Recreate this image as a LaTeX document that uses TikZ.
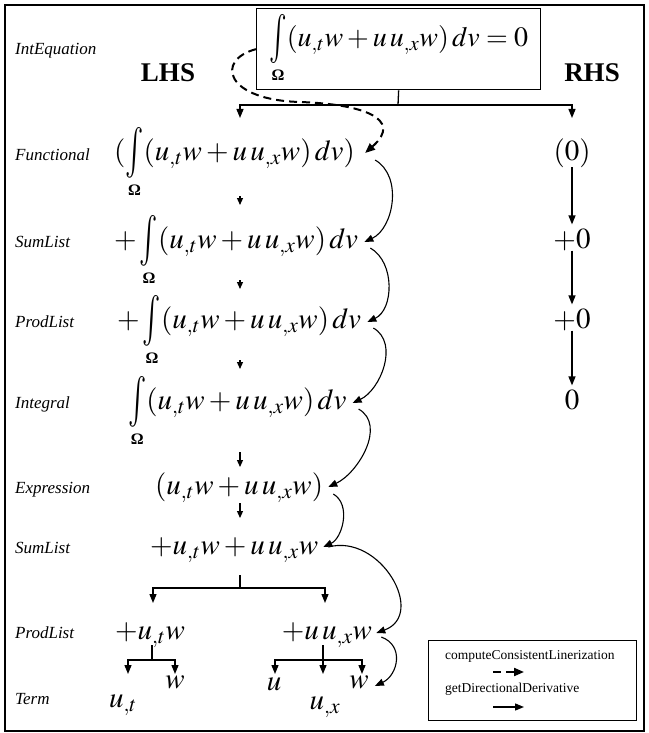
\documentclass[tikz,border=0pt]{standalone}
\usepackage{mathptmx}
\usepackage{graphicx}
\usepackage{fontspec}
\setmainfont{Liberation Serif}
\usetikzlibrary{arrows.meta}
\newcommand\om{\mbox{\fontsize{16}{16}\selectfont\bfseries Ω}}
\newcommand\bigint{\vcenter{\hbox{\scalebox{1.05}[1.75]{$\textstyle\int$}}}}
\newcommand\ig{\mathop{\bigint}\limits_{\om}}
\newcommand\fx{(u_{,t}w+u\,u_{,x}w)}
\newcommand\dvv{\,dv}
\begin{document}
\begin{tikzpicture}[x=1pt,y=-1pt,
  lbl/.style={anchor=base west,inner sep=0pt,font=\fontsize{17}{19}\selectfont\itshape},
  fm/.style={anchor=base west,inner sep=0pt,font=\fontsize{29}{33}\selectfont},
  tm/.style={anchor=base,inner sep=0pt,font=\fontsize{29}{33}\selectfont},
  hd/.style={inner sep=0pt,font=\fontsize{27}{30}\selectfont\bfseries},
  lg/.style={anchor=west,inner sep=0pt,font=\fontsize{13.5}{15}\selectfont},
  conn/.style={line width=1.3pt},
  arr/.style={line width=1.3pt,-{Triangle[length=9pt,width=7pt]}},
  smarr/.style={line width=1.2pt,-{Triangle[length=7pt,width=6pt]}},
  sarr/.style={line width=1.1pt,-{Triangle[length=9pt,width=7pt]}},
  darr/.style={line width=2pt,dash pattern=on 8pt off 5pt,-{Triangle[length=10pt,width=8pt]}},
]
\useasboundingbox (0,0) rectangle (648,733);
\draw[line width=1.5pt] (5,5) rectangle (644,731);

% top equation
\node[draw,line width=1.3pt,anchor=north west,inner sep=0pt,minimum width=284pt,minimum height=81pt,font=\fontsize{28}{32}\selectfont] (eq) at (256,8) {$\ig\fx\dvv=0$};
\node[lbl] (lab0) at (15,55) {IntEquation};
\node[hd] (lhs) at (168,73) {LHS};
\node[hd] (rhs) at (592,73) {RHS};

% labels
\node[lbl] (lab1) at (15,160) {Functional};
\node[lbl] (lab2) at (15,247) {SumList};
\node[lbl] (lab3) at (15,327) {ProdList};
\node[lbl] (lab4) at (15,408) {Integral};
\node[lbl] (lab5) at (15,493) {Expression};
\node[lbl] (lab6) at (15,553) {SumList};
\node[lbl] (lab7) at (15,638) {ProdList};
\node[lbl] (lab8) at (15,704) {Term};

% LHS formulas
\node[fm] (f1) at (114,160) {$(\ig\fx\dvv)$};
\node[fm] (s1) at (114,248) {$+\ig\fx\dvv$};
\node[fm] (p1) at (117,328) {$+\ig\fx\dvv$};
\node[fm] (i1) at (128,409) {$\ig\fx\dvv$};
\node[fm] (e1) at (155,494) {$\fx$};
\node[fm] (s2) at (150,554) {$+u_{,t}w+u\,u_{,x}w$};
\node[tm] (p2a) at (150,639) {$+u_{,t}w$};
\node[tm] (p2b) at (327,639) {$+u\,u_{,x}w$};
\node[tm] (t1) at (123,707) {$u_{,t}$};
\node[tm] (t2) at (175,688) {$w$};
\node[tm] (t3) at (274,690) {$u$};
\node[tm] (t4) at (325,709) {$u_{,x}$};
\node[tm] (t5) at (359,688) {$w$};

% RHS
\node[tm] (r1) at (572,160) {$(0)$};
\node[tm] (r2) at (572,248) {$+0$};
\node[tm] (r3) at (572,328) {$+0$};
\node[tm] (r4) at (572,409) {$0$};
\draw[arr,shorten >=4pt] (r1.south) -- (r2.north);
\draw[arr,shorten >=4pt] (r2.south) -- (r3.north);
\draw[arr,shorten >=4pt] (r3.south) -- (r4.north);

% top tree
\coordinate (jt) at (398,105);
\coordinate (tl) at (240,118);
\coordinate (tr) at (572,118);
\draw[conn] (eq.south) -- (jt);
\draw[arr] (jt) -| (tl);
\draw[arr] (jt) -| (tr);

% small vertical arrows
\draw[smarr] (240,196) -- (240,205);
\draw[smarr] (240,280) -- (240,289);
\draw[smarr] (240,360) -- (240,369);
\draw[smarr] (240,452) -- (240,467);
\draw[smarr] (240,503) -- (240,518);

% tree under SumList
\coordinate (js) at (240,588);
\draw[conn] (240,575) -- (js);
\draw[arr] (js) -| (153,603);
\draw[arr] (js) -| (325,603);

% subtrees
\coordinate (ja) at (152,660);
\draw[conn] (152,645) -- (ja);
\draw[arr] (ja) -| (128,674);
\draw[arr] (ja) -| (175,674);
\coordinate (jb) at (323,660);
\draw[arr] (323,645) -- (323,674);
\draw[arr] (jb) -| (275,674);
\draw[arr] (jb) -| (362,674);

% dashed computeConsistentLinerization
\draw[darr] (eq.west) .. controls (215,60) and (225,100) .. (300,102) .. controls (360,104) and (405,118) .. ([xshift=10pt,yshift=7pt]f1.base east);

% getDirectionalDerivative chain
\draw[sarr] ([xshift=20pt,yshift=0pt]f1.base east) to[out=-30,in=25] ([xshift=6pt,yshift=6pt]s1.base east);
\draw[sarr] ([xshift=12pt,yshift=0pt]s1.base east) to[out=-30,in=25] ([xshift=6pt,yshift=6pt]p1.base east);
\draw[sarr] ([xshift=12pt,yshift=0pt]p1.base east) to[out=-30,in=25] ([xshift=6pt,yshift=6pt]i1.base east);
\draw[sarr] ([xshift=12pt,yshift=0pt]i1.base east) to[out=-30,in=25] ([xshift=5pt,yshift=7pt]e1.base east);
\draw[sarr] ([xshift=10pt,yshift=0pt]e1.base east) to[out=-30,in=25] ([xshift=5pt,yshift=7pt]s2.base east);
\draw[sarr] ([xshift=10pt,yshift=7pt]s2.base east) to[out=15,in=20,looseness=1.4] ([xshift=4pt,yshift=6pt]p2b.base east);
\draw[sarr] ([xshift=9pt,yshift=2pt]p2b.base east) to[out=-20,in=25,looseness=1.3] ([xshift=6pt,yshift=2pt]t5.base east);

% legend
\node[draw,line width=1.3pt,anchor=north west,minimum width=208pt,minimum height=80pt,inner sep=0pt] (leg) at (428,640) {};
\node[lg] (lg1) at (445,656) {computeConsistentLinerization};
\node[lg] (lg2) at (445,689) {getDirectionalDerivative};
\coordinate (d1) at (493,672);
\coordinate (d2) at (524,672);
\draw[darr] (d1) -- (d2);
\coordinate (g1) at (493,707);
\coordinate (g2) at (524,707);
\draw[arr] (g1) -- (g2);
\end{tikzpicture}
\end{document}
